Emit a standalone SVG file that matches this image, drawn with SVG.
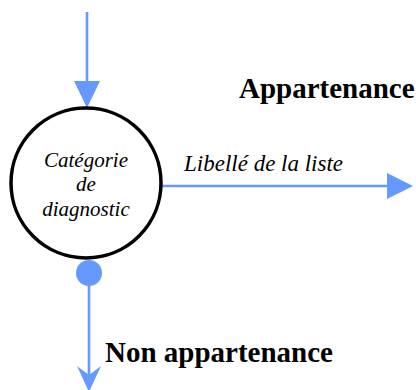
<svg xmlns="http://www.w3.org/2000/svg" width="416" height="390" viewBox="0 0 416 390">
<style>
.ln{stroke:#6699FF;stroke-width:2.6;fill:none}
.hd{fill:#6699FF;stroke:none}
.it{font-family:"Liberation Serif",serif;font-style:italic;fill:#000}
.bd{font-family:"Liberation Serif",serif;font-weight:bold;fill:#000}
</style>
<rect width="416" height="390" fill="#fff"/>
<g id="connectors">
<line class="ln" x1="87" y1="12" x2="87" y2="84"/>
<polygon class="hd" points="74,81 100,81 87,108"/>
<line class="ln" x1="162" y1="186" x2="390" y2="186"/>
<polygon class="hd" points="387,173 413,186 387,199"/>
<circle class="hd" cx="89" cy="273" r="13"/>
<line class="ln" x1="89" y1="273" x2="89" y2="385"/>
<polygon class="hd" points="77,366 89,375 101,366 89,392"/>
</g>
<g id="node-categorie">
<circle cx="86" cy="183" r="75" fill="#fff" stroke="#000" stroke-width="3.5"/>
<text class="it" font-size="21" x="86" y="167" text-anchor="middle">Catégorie</text>
<text class="it" font-size="21" x="86" y="191" text-anchor="middle">de</text>
<text class="it" font-size="21" x="86" y="216" text-anchor="middle">diagnostic</text>
</g>
<g id="labels">
<text class="it" font-size="23" x="184" y="171">Libellé de la liste</text>
<text class="bd" font-size="29" x="239" y="98">Appartenance</text>
<text class="bd" font-size="29" x="105" y="362">Non appartenance</text>
</g>
</svg>
